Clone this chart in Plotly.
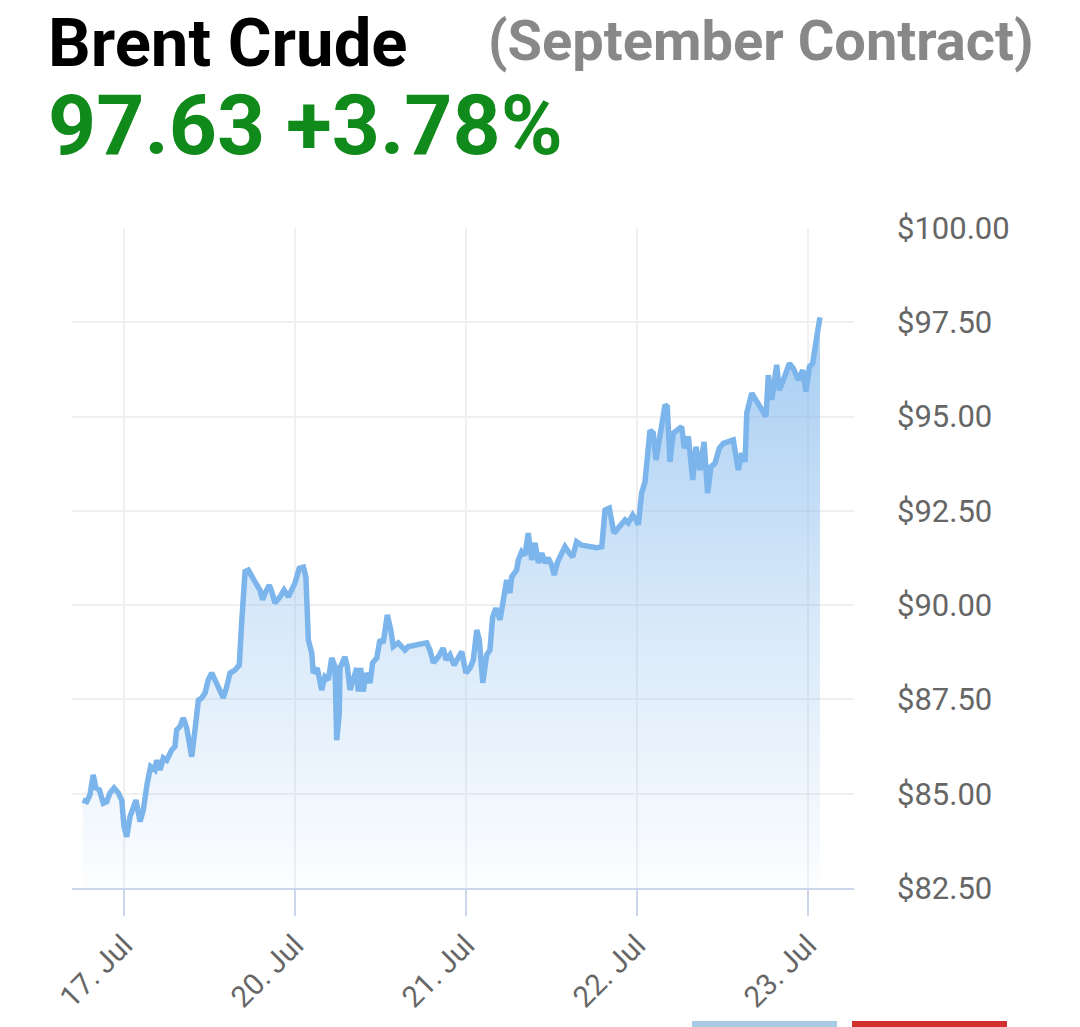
import plotly.graph_objects as go

# ---- data (x = position in trading days, 0 = 17 Jul, 1 = 20 Jul, ...) ----
session_pos = [
    -0.242, -0.218, -0.199, -0.180, -0.164, -0.144, -0.121, -0.101, -0.082, -0.058,
    -0.033, -0.013, 0.000, 0.016, 0.035, 0.070, 0.094, 0.113, 0.136, 0.156,
    0.181, 0.191, 0.211, 0.230, 0.250, 0.279, 0.298, 0.308, 0.327, 0.347,
    0.367, 0.396, 0.415, 0.435, 0.454, 0.474, 0.493, 0.513, 0.532, 0.551,
    0.561, 0.581, 0.601, 0.620, 0.649, 0.674, 0.688, 0.708, 0.727, 0.747,
    0.766, 0.795, 0.811, 0.825, 0.850, 0.864, 0.883, 0.912, 0.936, 0.961,
    0.987, 1.000, 1.025, 1.049, 1.064, 1.078, 1.098, 1.107, 1.130, 1.156,
    1.175, 1.195, 1.215, 1.234, 1.244, 1.259, 1.263, 1.292, 1.306, 1.322,
    1.341, 1.361, 1.370, 1.384, 1.399, 1.415, 1.439, 1.454, 1.478, 1.497,
    1.516, 1.540, 1.560, 1.575, 1.604, 1.643, 1.663, 1.770, 1.789, 1.809,
    1.838, 1.867, 1.883, 1.906, 1.930, 1.946, 1.975, 2.000, 2.023, 2.043,
    2.063, 2.078, 2.098, 2.121, 2.140, 2.156, 2.175, 2.199, 2.218, 2.238,
    2.257, 2.267, 2.296, 2.306, 2.326, 2.345, 2.364, 2.384, 2.404, 2.423,
    2.443, 2.462, 2.481, 2.501, 2.516, 2.536, 2.560, 2.579, 2.604, 2.624,
    2.647, 2.677, 2.764, 2.794, 2.813, 2.838, 2.865, 2.901, 2.930, 2.949,
    2.975, 2.994, 3.008, 3.027, 3.047, 3.076, 3.095, 3.111, 3.139, 3.164,
    3.177, 3.193, 3.212, 3.242, 3.261, 3.277, 3.300, 3.326, 3.345, 3.368,
    3.392, 3.413, 3.433, 3.456, 3.481, 3.505, 3.534, 3.563, 3.592, 3.612,
    3.632, 3.642, 3.671, 3.700, 3.729, 3.754, 3.768, 3.788, 3.817, 3.832,
    3.856, 3.891, 3.914, 3.943, 3.969, 3.988, 4.008, 4.027, 4.050, 4.070,
]
price = [
    84.83, 84.79, 84.97, 85.50, 85.15, 85.10, 84.75, 84.79, 85.02, 85.15,
    85.02, 84.83, 84.13, 83.86, 84.39, 84.83, 84.26, 84.57, 85.28, 85.72,
    85.63, 85.89, 85.63, 85.95, 85.89, 86.16, 86.25, 86.69, 86.78, 87.01,
    86.74, 85.98, 86.69, 87.48, 87.54, 87.67, 88.02, 88.20, 88.02, 87.84,
    87.75, 87.54, 87.84, 88.20, 88.28, 88.41, 89.53, 90.89, 90.93, 90.80,
    90.62, 90.40, 90.14, 90.32, 90.53, 90.36, 90.06, 90.22, 90.40, 90.22,
    90.45, 90.59, 90.98, 91.01, 90.75, 89.08, 88.73, 88.20, 88.33, 87.75,
    88.10, 88.02, 88.60, 88.37, 86.42, 87.14, 88.33, 88.63, 88.37, 87.75,
    88.02, 88.33, 87.71, 88.33, 87.71, 88.20, 87.94, 88.47, 88.60, 89.08,
    89.00, 89.74, 89.34, 88.90, 89.00, 88.81, 88.90, 89.00, 88.81, 88.47,
    88.63, 88.86, 88.55, 88.68, 88.41, 88.55, 88.77, 88.20, 88.33, 88.55,
    89.34, 89.08, 87.94, 88.68, 88.81, 89.69, 89.92, 89.61, 90.22, 90.67,
    90.32, 90.75, 90.93, 91.20, 91.42, 91.33, 91.91, 91.20, 91.65, 91.12,
    91.38, 91.12, 91.25, 91.06, 90.80, 91.15, 91.38, 91.55, 91.38, 91.28,
    91.68, 91.59, 91.52, 91.55, 92.52, 92.57, 91.91, 92.08, 92.26, 92.18,
    92.39, 92.26, 92.13, 92.97, 93.27, 94.64, 94.56, 93.85, 94.64, 95.31,
    95.26, 93.80, 94.56, 94.69, 94.73, 94.16, 94.47, 93.32, 94.20, 93.58,
    94.33, 92.97, 93.67, 93.76, 94.16, 94.29, 94.33, 94.38, 93.58, 94.03,
    93.80, 95.09, 95.62, 95.39, 95.17, 95.00, 96.10, 95.44, 96.37, 95.70,
    95.97, 96.41, 96.28, 95.97, 96.23, 95.66, 96.32, 96.41, 97.08, 97.63,
]
tick_pos = [0, 1, 2, 3, 4]
tick_labels = ["17. Jul", "20. Jul", "21. Jul", "22. Jul", "23. Jul"]
y_ticks = [82.5, 85.0, 87.5, 90.0, 92.5, 95.0, 97.5, 100.0]
y_tick_labels = ["$82.50", "$85.00", "$87.50", "$90.00", "$92.50", "$95.00", "$97.50", "$100.00"]

title_text = "Brent Crude"
subtitle_text = "(September Contract)"
quote_text = "97.63 +3.78%"

FONT = "Roboto"
LINE = "#7cb5ec"

fig = go.Figure()
fig.add_trace(go.Scatter(
    x=session_pos, y=price, mode="lines",
    line=dict(color=LINE, width=5.5),
    fill="tozeroy",
    fillgradient=dict(
        type="vertical",
        start=97.6, stop=82.5,
        colorscale=[[0, "rgba(124,181,236,0.68)"], [0.5, "rgba(124,181,236,0.32)"],
                    [1, "rgba(124,181,236,0.02)"]],
    ),
    hoverinfo="skip", showlegend=False,
))

fig.update_layout(
    width=1080, height=1027, autosize=False,
    margin=dict(l=72, r=226, t=228, b=139),
    paper_bgcolor="white", plot_bgcolor="white",
    font=dict(family=FONT, color="#666666", size=28),
    xaxis=dict(
        range=[-0.304, 4.269], tickmode="array", tickvals=tick_pos, ticktext=tick_labels,
        tickangle=-45, showgrid=True, gridcolor="#f0f0f0", gridwidth=2,
        showline=True, linecolor="#ccd6eb", linewidth=2,
        ticks="outside", ticklen=26, tickwidth=2, tickcolor="#ccd6eb",
        tickfont=dict(family=FONT, size=29.5, color="#666666"), zeroline=False,
    ),
    yaxis=dict(
        range=[82.5, 100], side="right", tickmode="array", tickvals=y_ticks,
        ticktext=y_tick_labels, showgrid=True, gridcolor="#f0f0f0", gridwidth=2,
        zeroline=False, ticks="", ticklabelstandoff=42,
        tickfont=dict(family=FONT, size=31, color="#666666"),
    ),
    annotations=[
        dict(text=title_text, xref="paper", yref="paper", x=-0.0332, y=1.281,
             xanchor="left", yanchor="middle", showarrow=False,
             font=dict(family=FONT, size=67, color="#000000", weight=700)),
        dict(text=subtitle_text, xref="paper", yref="paper", x=0.530, y=1.283,
             xanchor="left", yanchor="middle", showarrow=False,
             font=dict(family=FONT, size=56, color="#888888", weight=700)),
        dict(text=quote_text, xref="paper", yref="paper", x=-0.0332, y=1.155,
             xanchor="left", yanchor="middle", showarrow=False,
             font=dict(family=FONT, size=84, color="#118a1c", weight=700)),
    ],
    shapes=[
        dict(type="rect", xref="paper", yref="paper", x0=(692 - 72) / 782, x1=(837 - 72) / 782,
             y0=-0.2015, y1=-0.215, fillcolor="#a8cbe3", line=dict(width=0)),
        dict(type="rect", xref="paper", yref="paper", x0=(852 - 72) / 782, x1=(1007 - 72) / 782,
             y0=-0.2015, y1=-0.215, fillcolor="#d32f2f", line=dict(width=0)),
    ],
)

fig.write_html("out.html")
